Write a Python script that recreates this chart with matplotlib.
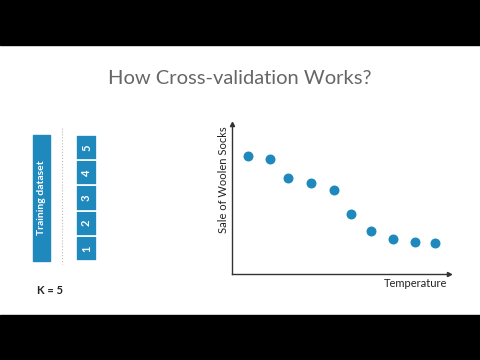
import matplotlib.pyplot as plt
from matplotlib.patches import Rectangle

# scatter data (temperature vs sale of woolen socks, arbitrary units)
temperature = [0.75, 1.74, 2.57, 3.65, 4.70, 5.50, 6.41, 7.43, 8.43, 9.37]
socks_sold = [7.87, 7.69, 6.38, 6.07, 5.58, 3.98, 2.85, 2.35, 2.11, 2.05]
folds = ['1', '2', '3', '4', '5']
k_value = 5

blue = '#1f88bd'
plt.rcParams['font.family'] = ['Lato', 'DejaVu Sans']

fig = plt.figure(figsize=(4.8, 3.6), dpi=100)

# background canvas in pixel coordinates for the black bands and diagram
bg = fig.add_axes([0, 0, 1, 1])
bg.set_xlim(0, 480)
bg.set_ylim(360, 0)
bg.axis('off')
bg.add_patch(Rectangle((0, 0), 480, 45, color='black'))
bg.add_patch(Rectangle((0, 315), 480, 45, color='black'))

bg.text(240, 78, 'How Cross-validation Works?', ha='center', va='center',
        fontsize=14.5, color='#666666', fontweight='normal')

# training dataset bar
bg.add_patch(Rectangle((33, 135), 17, 126, color=blue))
bg.text(41.5, 198, 'Training dataset', rotation=90, ha='center', va='center',
        fontsize=7.5, color='white', fontweight='bold')

# dotted separator
bg.plot([62, 62], [128, 264], color='#bbbbbb', lw=0.8, ls=':')

# folds
top, bottom = 135, 261
h = (bottom - top) / len(folds)
for i, f in enumerate(folds):
    y0 = bottom - (i + 1) * h
    bg.add_patch(Rectangle((76, y0), 21, h, facecolor=blue, edgecolor='white', lw=1.2))
    bg.text(86.5, y0 + h / 2, f, rotation=90, ha='center', va='center',
            fontsize=8, color='white', fontweight='bold')

bg.text(37, 290, f'K = {k_value}', ha='left', va='center', fontsize=8,
        color='#222222', fontweight='bold')

# scatter plot
ax = fig.add_axes([232 / 480, 86 / 360, 217 / 480, 150 / 360])
ax.scatter(temperature, socks_sold, s=38, color=blue, zorder=3)
ax.set_xlim(0, 10)
ax.set_ylim(0, 10)
ax.set_xticks([])
ax.set_yticks([])
for side in ['top', 'right']:
    ax.spines[side].set_visible(False)
for side in ['left', 'bottom']:
    ax.spines[side].set_color('#333333')
    ax.spines[side].set_linewidth(1.0)
ax.plot(1, 0, '>', color='#333333', ms=3, transform=ax.transAxes, clip_on=False)
ax.plot(0, 1, '^', color='#333333', ms=3, transform=ax.transAxes, clip_on=False)

ax.set_ylabel('Sale of Woolen Socks', fontsize=8, color='#222222')
ax.yaxis.set_label_coords(-0.015, 0.63)
ax.set_xlabel('Temperature', fontsize=8, color='#222222')
ax.xaxis.set_label_coords(0.99, -0.025)
ax.xaxis.label.set_ha('right')
ax.xaxis.label.set_va('top')

fig.savefig('out.png', dpi=100, facecolor='white')
